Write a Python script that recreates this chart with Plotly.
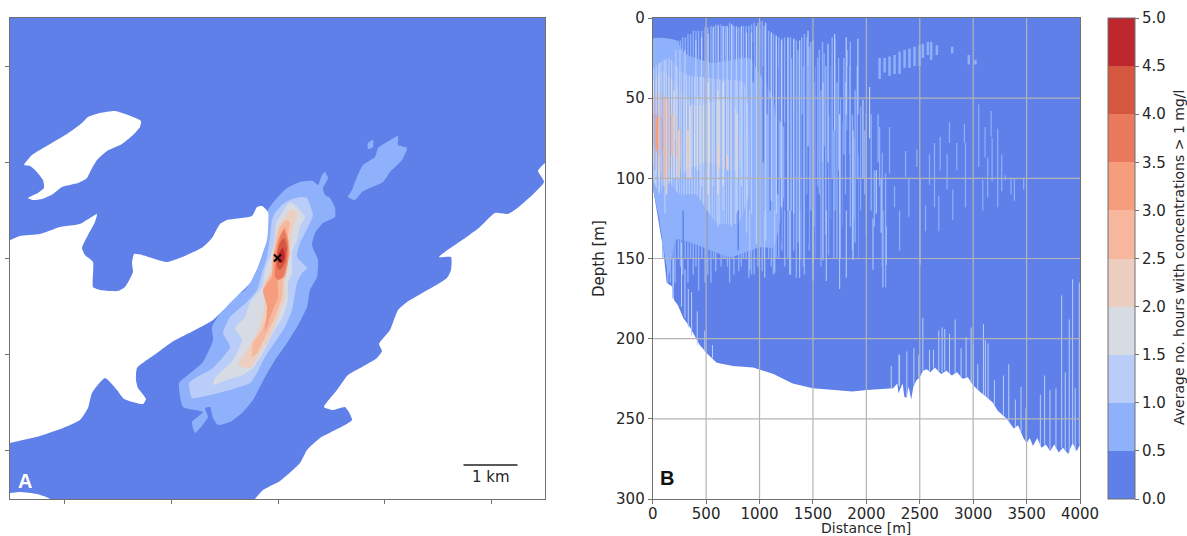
import plotly.graph_objects as go

# ---------- level colours ----------
LEVEL_EDGES = [0, .5, 1, 1.5, 2, 2.5, 3, 3.5, 4, 4.5, 5]
LEVEL_COLORS = ["#5f80e8", "#8fb1fb", "#b9cdf8", "#d6dbe4", "#eccfc0",
                "#f6b79c", "#f59d7c", "#ea7a5e", "#d5573f", "#bd272d"]

# ---------- panel A: map units ----------
WATER = [(10, 18), (545, 18), (545, 499), (10, 499)]
ISLAND_W = [(24,165),(32,155),(50,144),(67,134),(82,123),(88,117),(100,113),(115,111),(128,115),(141,121),(140,127),(133,135),(122,144),(107,151),(97,160),(91,170),(87,178),(78,183),(62,187),(53,194),(42,199),(33,200),(28,198),(38,193),(44,188),(43,180),(35,170),(30,166)]
LAND_NW = [(-20,245),(10,240),(20,236),(40,234),(60,227),(80,224),(90,218),(97,214),(95,222),(88,235),(82,248),(85,255),(93,262),(93,287),(100,290),(118,291),(125,287),(133,272),(132,263),(134,254),(142,255),(167,262),(187,255),(203,247),(212,238),(220,224),(227,220),(252,216),(257,207),(262,206),(268,212),(268,230),(267,240),(258,267),(250,283),(233,300),(213,320),(195,330),(172,342),(157,353),(137,368),(136,380),(138,388),(146,399),(143,404),(124,399),(117,390),(105,378),(92,393),(88,408),(80,420),(63,428),(40,436),(10,443),(-20,450)]
LAND_SW = [(-20,493),(10,493),(20,492),(37,494),(50,499),(65,525),(-20,525)]
LAND_SE = [(240,525),(255,499),(263,490),(280,481),(300,463),(307,450),(320,438),(352,420),(345,407),(333,410),(324,407),(337,390),(348,375),(362,367),(377,358),(382,351),(379,344),(390,330),(398,310),(407,302),(447,278),(451,270),(451,257),(439,257),(468,236),(480,227),(495,213),(508,214),(520,206),(544,182),(538,171),(545,163),(575,150),(575,525)]

PLUME_1 = [(268,210),(277,198),(287,188),(300,182),(313,181),(318,185),(322,175),(325,172),(328,178),(323,188),(325,195),(330,198),(335,208),(335,217),(323,223),(315,233),(312,245),(318,260),(317,277),(310,290),(307,307),(297,327),(287,343),(275,360),(265,377),(253,400),(242,413),(230,422),(218,425),(213,418),(210,407),(205,408),(208,417),(195,433),(192,422),(203,412),(183,407),(179,383),(188,375),(203,362),(213,340),(212,327),(230,300),(245,290),(257,270),(265,247),(268,227)]
PLUME_1B = [(352,190),(357,177),(363,165),(375,157),(378,148),(387,142),(398,136),(398,145),(407,148),(402,160),(390,172),(383,182),(370,188),(362,192),(355,200),(348,197)]
PLUME_1C = [(368,143),(373,140),(373,147),(368,149)]
PLUME_2 = [(272,220),(275,213),(282,205),(290,200),(300,197),(307,198),(310,205),(313,215),(310,223),(305,233),(300,243),(297,257),(307,268),(302,273),(297,283),(295,293),(292,310),(285,327),(275,342),(265,357),(257,373),(250,383),(230,390),(210,395),(192,398),(189,383),(197,377),(213,368),(230,347),(223,333),(230,317),(247,302),(257,290),(262,273),(267,257),(270,237)]
PLUME_3 = [(276,223),(282,213),(290,202),(297,207),(305,217),(300,227),(297,240),(292,253),(292,273),(288,283),(288,300),(283,317),(273,333),(263,353),(253,368),(243,375),(227,380),(213,385),(215,378),(233,360),(242,340),(235,328),(245,317),(250,302),(262,287),(265,270),(272,252),(275,237)]
PLUME_4 = [(278,227),(285,217),(292,209),(297,213),(295,223),(292,233),(290,250),(287,267),(285,283),(285,297),(278,317),(270,337),(260,353),(250,368),(238,365),(247,350),(257,333),(263,313),(265,297),(263,287),(270,273),(272,257),(275,240)]
PLUME_5 = [(280,227),(287,220),(290,223),(288,237),(290,253),(283,280),(282,297),(275,317),(265,337),(257,353),(252,357),(253,343),(262,330),(268,313),(265,297),(265,285),(273,270),(274,253),(277,237)]
PLUME_6 = [(280,235),(285,227),(288,238),(289,253),(285,277),(278,280),(278,297),(270,317),(265,332),(267,307),(263,290),(272,277),(273,257),(277,243)]
PLUME_7 = [(280,237),(284,230),(288,243),(287,263),(283,277),(278,280),(275,277),(276,260),(277,250)]
PLUME_8 = [(280,243),(284,238),(287,248),(285,263),(280,270),(277,267),(277,253)]
PLUME_9 = [(279,253),(283,248),(285,257),(282,263),(278,262)]
SOURCE_XY = (277.5, 258)
SCALE_BAR = [(463.5, 465), (517.5, 465)]

MAP_XTICKS = [64, 171, 278, 384, 491]
MAP_YTICKS = [66, 162, 258, 354, 450]

# ---------- panel B: distance [m], depth [m] ----------
DIST_TICKS = [0, 500, 1000, 1500, 2000, 2500, 3000, 3500, 4000]
DEPTH_TICKS = [0, 50, 100, 150, 200, 250, 300]
BOTTOM = [(0,105),(50,125),(100,145),(130,165),(190,168),(200,176),(235,179),(285,187),(350,193),(440,204),(520,210),(600,215),(750,217),(940,218),(1130,222),(1310,228),(1500,231),(1870,233),(2005,232),(2250,231),(2290,228),(2300,234),(2340,228),(2355,236),(2375,237),(2395,230),(2420,238),(2440,230),(2470,226),(2500,224),(2530,220),(2565,219),(2600,221),(2640,218),(2700,222),(2750,220),(2800,223),(2850,221),(2900,225),(2950,224),(3000,229),(3060,233),(3120,236),(3185,240),(3230,245),(3315,250),(3380,256),(3420,254),(3470,262),(3500,265),(3530,262),(3560,267),(3600,262),(3640,268),(3680,266),(3720,270),(3760,266),(3800,271),(3840,268),(3890,272),(3930,265),(3970,270),(4000,266)]
SEA_TOP = [(4000,0),(0,0)]

SEC_1 = [(0,13),(220,14),(300,22),(550,28),(900,25),(1000,35),(1130,50),(1150,60),(1240,70),(1240,105),(1130,143),(1003,143),(722,149),(224,138),(150,160),(60,125),(0,105)]
SEC_2 = [(0,32),(150,25),(300,35),(600,38),(850,40),(900,60),(900,110),(800,128),(600,128),(400,110),(250,110),(120,100),(70,110),(0,100)]
SEC_3 = [(0,40),(100,33),(200,40),(400,55),(700,50),(800,60),(800,95),(500,90),(300,95),(100,105),(0,90)]
SEC_4 = [(0,48),(120,48),(220,60),(280,72),(260,85),(150,95),(80,100),(0,85)]
SEC_5 = [(0,60),(70,60),(110,68),(100,82),(60,86),(0,78)]

STREAKS_1 = [(45,20,115),(95,18,150),(140,15,165),(190,16,175),(240,14,150),(280,12,160),(330,10,165),(380,8,160),(430,8,170),(490,6,165),(545,5,165),(590,4,158),(640,4,155),(680,5,150),(720,3,165),(760,5,160),(805,6,158),(850,5,150),(900,5,162),(950,3,160),(1025,2,158),(1085,8,150),(1130,10,160),(1180,12,150),(1235,12,155),(1290,12,160),(1345,14,162),(1420,10,160),(1480,15,120),(1560,20,110),(1620,30,135),(1680,12,100),(1725,40,150),(1790,25,85),(1850,15,130),(1895,45,140),(1945,55,120),(2000,60,135)]
STREAKS_1B = [(20,20,95),(75,20,130),(120,16,150),(165,16,165),(210,14,165),(260,14,155),(305,12,150),(355,10,150),(405,8,155),(460,8,150),(515,6,160),(570,5,150),(615,4,145),(660,5,150),(700,6,155),(745,4,150),(785,5,145),(830,6,155),(875,5,150),(925,4,160),(985,3,155),(1045,5,150),(1110,9,155),(1155,11,150),(1210,13,145),(1265,13,150),(1320,13,145),(1395,12,150),(1445,12,110),(1525,30,150),(1590,15,90),(1650,60,148),(1705,13,120),(1760,50,150),(1820,20,70),(1870,60,145),(1915,30,100),(1985,70,110),(2045,60,120),(2075,95,130),(2110,60,90)]
STREAKS_1C = [(1300,25,120),(1360,20,140),(1410,30,155),(1465,18,145),(1510,40,130),(1545,25,105),(1575,45,155),(1605,22,80),(1665,30,125),(1695,70,150),(1740,25,95),(1775,65,130),(1805,40,110),(1840,30,85),(1885,75,125),(1930,85,150)]
STREAKS_DARK = [(285,120,150),(505,120,150),(800,120,145),(1100,50,120),(1320,60,100),(1400,60,150),(1455,30,140),(1530,20,150),(1660,30,150),(1770,40,150),(1830,30,150),(1935,30,150),(1170,30,110),(1240,65,120),(1200,100,140),(1070,20,60),(940,15,40),(1035,30,90)]
STREAKS_2 = [(68,28,97),(115,26,122),(217,20,76),(255,20,93),(302,20,97),(404,14,93),(457,12,105),(520,10,120),(566,6,105),(613,5,130),(660,5,120),(697,5,93),(738,4,130),(784,6,122),(831,5,105),(878,9,134),(925,9,122),(971,5,141),(1002,2,143),(1058,3,139),(1111,9,114),(1158,11,122),(1205,14,118),(1267,12,120),(1320,13,122),(1376,14,151),(1454,8,80),(1501,14,153),(1594,40,151),(1641,16,90),(1703,10,70),(1750,60,122),(1812,12,60),(1875,70,151),(1921,13,60),(1968,51,100),(2030,43,75),(2093,95,122),(2139,100,134)]
STREAKS_2B = [(909,120,157),(1049,120,162),(1143,120,159),(1283,120,160),(1376,120,162),(1501,120,164),(1625,120,164),(1750,120,169),(1812,120,162),(2062,125,157),(2155,120,168),(2186,130,154),(302,157,187),(333,169,193),(364,171,198),(417,183,204),(488,195,208),(560,204,212),(270,140,180),(193,150,168)]
STREAKS_FAINT = [(2124,68,105),(2149,84,155),(2180,97,168),(2217,68,97),(2264,105,118),(2311,120,145),(2367,83,99),(2398,100,124),(2473,82,93),(2504,100,154),(2554,117,133),(2591,85,104),(2638,78,118),(2678,111,133),(2691,74,95),(2756,85,107),(2778,65,78),(2809,107,126),(2847,78,95),(2928,78,118),(2918,66,78),(3052,54,93),(3090,101,120),(3111,68,87),(3136,87,112),(3168,58,74),(3177,75,102),(3230,69,118),(3267,85,108),(3301,98,101),(3354,100,110),(3386,100,114),(3473,100,107)]
STREAKS_PATCH = [(2124,25,38),(2171,25,34),(2217,24,36),(2264,23,35),(2311,21,35),(2358,20,31),(2404,19,31),(2451,18,30),(2498,17,30),(2529,16,25),(2576,15,23),(2607,15,26),(2660,17,23),(2803,18,22),(2959,23,29),(3021,26,29)]
STREAKS_TEETH = [(2233,217,231),(2311,210,230),(2305,210,229),(2379,208,236),(2445,206,229),(2491,210,224),(2529,187,220),(2591,207,221),(2629,207,218),(2678,195,221),(2709,193,221),(2734,194,220),(2778,197,222),(2831,188,222),(2887,206,224),(2934,199,224),(2981,193,228),(3002,203,229),(3043,216,232),(3096,191,235),(3114,201,236),(3139,203,238),(3199,226,241),(3283,223,248),(3333,216,251),(3395,238,255),(3448,230,258),(3495,243,264),(3629,235,267),(3669,223,266),(3719,232,269),(3775,231,268),(3828,173,268),(3862,221,270),(3899,188,271),(3931,163,266),(3955,231,270),(3993,165,266)]
STREAKS_GREY = [(420,50,95),(520,40,110),(610,45,110),(660,40,105),(790,60,100),(200,45,100),(350,55,100)]
STREAKS_PEACH = [(130,50,110),(245,70,100),(330,70,100),(615,80,95),(700,85,95)]
STREAKS_SALMON = [(110,50,100),(180,60,85)]
STREAKS_ORANGE = [(40,62,82)]

CB_TITLE = "Average no. hours with concentrations > 1 mg/l"

W, H = 1187, 536
FONT = "DejaVu Sans"
TXT = "#262626"
FRAME = "#707070"
fig = go.Figure()


def poly(pts, color, xa, ya, smooth=True):
    line = dict(width=0, color=color)
    if smooth:
        line.update(shape="spline", smoothing=0.5)
    fig.add_trace(go.Scatter(x=[p[0] for p in pts] + [pts[0][0]],
                             y=[p[1] for p in pts] + [pts[0][1]],
                             xaxis=xa, yaxis=ya, mode="lines", fill="toself",
                             fillcolor=color, line=line,
                             hoverinfo="skip", showlegend=False))


def streaks(rows, color, width=1.0):
    xs, ys = [], []
    for d, a, b in rows:
        xs += [d, d, None]
        ys += [a, b, None]
    fig.add_trace(go.Scatter(x=xs, y=ys, xaxis="x2", yaxis="y2", mode="lines",
                             line=dict(color=color, width=width),
                             hoverinfo="skip", showlegend=False))


# panel A
poly(WATER, LEVEL_COLORS[0], "x", "y", smooth=False)
for pts, lev in [(PLUME_1, 1), (PLUME_1B, 1), (PLUME_1C, 1), (PLUME_2, 2), (PLUME_3, 3),
                 (PLUME_4, 4), (PLUME_5, 5), (PLUME_6, 6), (PLUME_7, 7), (PLUME_8, 8), (PLUME_9, 9)]:
    poly(pts, LEVEL_COLORS[lev], "x", "y")
for pts in [ISLAND_W, LAND_NW, LAND_SW, LAND_SE]:
    poly(pts, "white", "x", "y")
fig.add_trace(go.Scatter(x=[SOURCE_XY[0]], y=[SOURCE_XY[1]], xaxis="x", yaxis="y", mode="markers",
                         marker=dict(symbol="x-thin", size=7, line=dict(color="black", width=2)),
                         hoverinfo="skip", showlegend=False))
fig.add_trace(go.Scatter(x=[p[0] for p in SCALE_BAR], y=[p[1] for p in SCALE_BAR], xaxis="x", yaxis="y",
                         mode="lines", line=dict(color="#222222", width=1.3), hoverinfo="skip", showlegend=False))

# panel B
poly(BOTTOM + SEA_TOP, LEVEL_COLORS[0], "x2", "y2", smooth=False)
for pts, lev in [(SEC_1, 1), (SEC_2, 2), (SEC_3, 3), (SEC_4, 4), (SEC_5, 5)]:
    poly(pts, LEVEL_COLORS[lev], "x2", "y2")
streaks(STREAKS_1, LEVEL_COLORS[1], 1.4)
streaks(STREAKS_1B, LEVEL_COLORS[1], 1.4)
streaks(STREAKS_1C, LEVEL_COLORS[1], 1.2)
streaks(STREAKS_DARK, LEVEL_COLORS[0], 1.4)
streaks(STREAKS_2, LEVEL_COLORS[2], 1.2)
streaks(STREAKS_2B, LEVEL_COLORS[2])
streaks(STREAKS_FAINT, LEVEL_COLORS[1], 1.2)
streaks(STREAKS_PATCH, LEVEL_COLORS[1], 2.5)
streaks(STREAKS_TEETH, LEVEL_COLORS[2])
streaks(STREAKS_GREY, LEVEL_COLORS[3], 1.5)
streaks(STREAKS_PEACH, LEVEL_COLORS[4], 1.5)
streaks(STREAKS_SALMON, LEVEL_COLORS[5], 2)
streaks(STREAKS_ORANGE, LEVEL_COLORS[6], 2)

# grid lies above the filled section in the reference
gx, gy = [], []
for d in DIST_TICKS[1:-1]:
    gx += [d, d, None]
    gy += [DEPTH_TICKS[0], DEPTH_TICKS[-1], None]
for z in DEPTH_TICKS[1:-1]:
    gx += [DIST_TICKS[0], DIST_TICKS[-1], None]
    gy += [z, z, None]
fig.add_trace(go.Scatter(x=gx, y=gy, xaxis="x2", yaxis="y2", mode="lines",
                         line=dict(color="#b4b4b4", width=1.2), hoverinfo="skip", showlegend=False))

# colour bar
scale = []
for i, c in enumerate(LEVEL_COLORS):
    scale += [[LEVEL_EDGES[i] / 5, c], [LEVEL_EDGES[i + 1] / 5, c]]
fig.add_trace(go.Scatter(
    x=[DIST_TICKS[0], DIST_TICKS[0]], y=[DEPTH_TICKS[0], DEPTH_TICKS[0]], xaxis="x2", yaxis="y2", mode="markers",
    hoverinfo="skip", showlegend=False,
    marker=dict(size=1, opacity=0, color=[LEVEL_EDGES[0], LEVEL_EDGES[-1]], colorscale=scale,
                cmin=LEVEL_EDGES[0], cmax=LEVEL_EDGES[-1], showscale=True,
                colorbar=dict(x=1108 / W, xanchor="left", xpad=0, ypad=0, y=1 - 18 / H, yanchor="top",
                              lenmode="pixels", len=481, thicknessmode="pixels", thickness=27,
                              outlinecolor=FRAME, outlinewidth=1, borderwidth=0,
                              tickmode="array", tickvals=LEVEL_EDGES,
                              ticktext=[f"{v:.1f}" for v in LEVEL_EDGES],
                              ticks="outside", ticklen=4, tickcolor=FRAME,
                              tickfont=dict(family=FONT, size=15, color=TXT)))))

ax = dict(showline=True, linecolor=FRAME, linewidth=1, mirror=True, ticks="outside", ticklen=4,
          tickcolor=FRAME, showgrid=False, zeroline=False, layer="above traces",
          tickfont=dict(family=FONT, size=15, color=TXT))
CENTER = dict(xanchor="center", yanchor="middle", showarrow=False)
fig.update_layout(
    width=W, height=H, margin=dict(l=0, r=0, t=0, b=0, autoexpand=False), autosize=False,
    paper_bgcolor="white", plot_bgcolor="white", showlegend=False,
    xaxis=dict(ax, domain=[10 / W, 545 / W], range=[10, 545], tickvals=MAP_XTICKS, showticklabels=False),
    yaxis=dict(ax, domain=[1 - 499 / H, 1 - 18 / H], range=[499, 18], tickvals=MAP_YTICKS, showticklabels=False),
    xaxis2=dict(ax, domain=[652.7 / W, 1080 / W], range=[DIST_TICKS[0], DIST_TICKS[-1]], tickvals=DIST_TICKS,
                anchor="y2", ticklabelstandoff=-3),
    yaxis2=dict(ax, domain=[1 - 499 / H, 1 - 18 / H], range=[DEPTH_TICKS[-1], DEPTH_TICKS[0]], tickvals=DEPTH_TICKS, anchor="x2"),
    annotations=[
        dict(CENTER, text="<b>A</b>", x=25, y=481, xref="x", yref="y",
             font=dict(family="Liberation Sans", size=20, color="white")),
        dict(CENTER, text="1 km", x=490.5, y=476.5, xref="x", yref="y",
             font=dict(family=FONT, size=15, color=TXT)),
        dict(CENTER, text="<b>B</b>", x=DIST_TICKS[0] + 135, y=287, xref="x2", yref="y2",
             font=dict(family="Liberation Sans", size=20, color="#111111")),
        dict(CENTER, text="Distance [m]", x=866 / W, y=1 - 528 / H, xref="paper", yref="paper",
             font=dict(family=FONT, size=14, color=TXT)),
        dict(CENTER, text="Depth [m]", x=599 / W, y=1 - 258 / H, xref="paper", yref="paper",
             textangle=-90, font=dict(family=FONT, size=15, color=TXT)),
        dict(CENTER, text=CB_TITLE, x=1179 / W, y=1 - 258 / H, xref="paper", yref="paper",
             textangle=-90, font=dict(family=FONT, size=14, color=TXT)),
    ],
)
fig.write_html("out.html", config=dict(displayModeBar=False),
               post_script="document.body.style.margin='0';document.body.style.overflow='hidden';")
